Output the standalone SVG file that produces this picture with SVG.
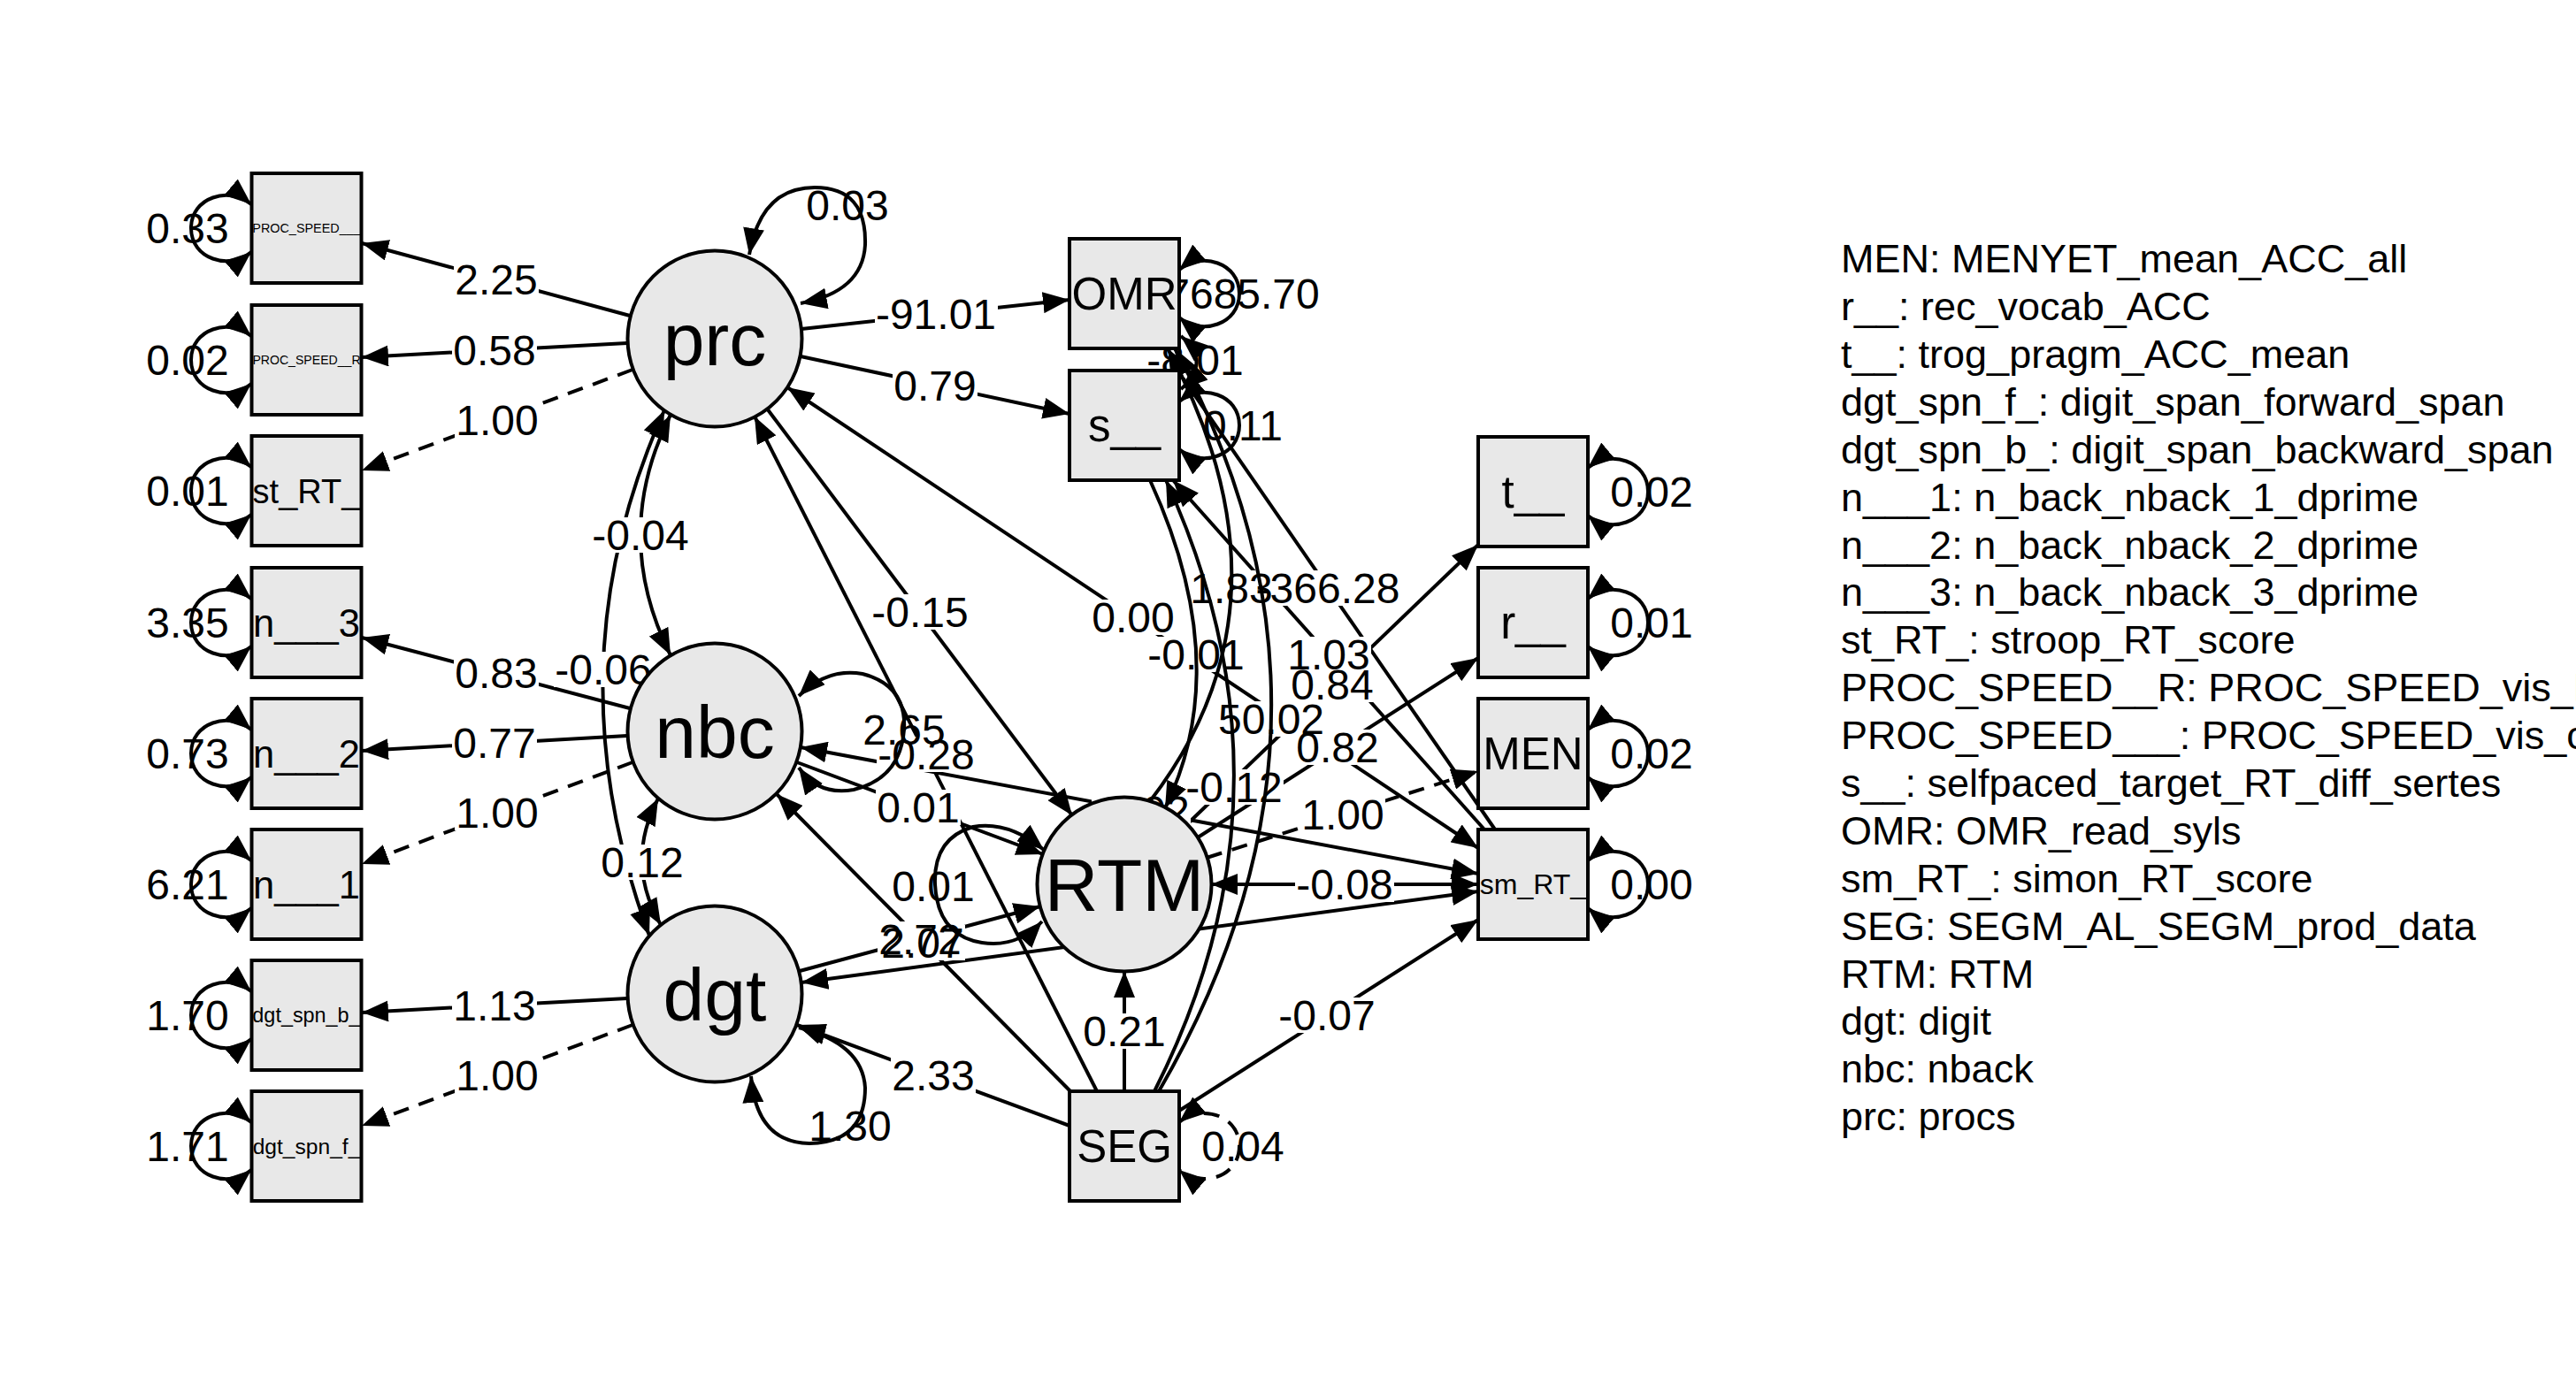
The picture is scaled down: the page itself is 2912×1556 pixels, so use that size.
<svg xmlns="http://www.w3.org/2000/svg" width="2912" height="1556" viewBox="0 0 2912 1556">
<defs>
<marker id="a" viewBox="0 0 30 24" refX="30" refY="12" markerWidth="30" markerHeight="24" markerUnits="userSpaceOnUse" orient="auto-start-reverse"><path d="M0,0 L30,12 L0,24 z" fill="#000"/></marker>
</defs>
<style>
.e{fill:none;stroke:#000;stroke-width:4}
.d{stroke-dasharray:18 12}
.h{marker-end:url(#a)}
.b{marker-start:url(#a);marker-end:url(#a)}
.s{marker-start:url(#a)}
.n{fill:#e8e8e8;stroke:#000;stroke-width:4}
text{font-family:"Liberation Sans",Arial,sans-serif;fill:#000}
.l{font-size:48px;text-anchor:middle}
.bg{fill:#fff}
.nl{text-anchor:middle}
.lat{font-size:84px;text-anchor:middle}
.lg{font-size:45px}
</style>
<rect width="2912" height="1556" fill="#fff"/>
<g id="connectors">
<g id="straight">
<path class="e h" d="M712,357 L409,275"/>
<path class="e h" d="M709,388 L409,404"/>
<path class="e h d" d="M715,418 L409,532"/>
<path class="e h" d="M712,801 L409,721"/>
<path class="e h" d="M709,832 L409,849"/>
<path class="e h d" d="M715,862 L409,977"/>
<path class="e h" d="M709,1129 L409,1145"/>
<path class="e h d" d="M715,1159 L409,1273"/>
<path class="e h" d="M906,372 L1209,339"/>
<path class="e h" d="M905,403 L1209,468"/>
<path class="e h" d="M867,462 L1212,922"/>
<path class="e b" d="M890,438 L1671,959"/>
<path class="e h" d="M1240,1234 L853,471"/>
<path class="e h" d="M1210,1234 L878,898"/>
<path class="e h" d="M904,1098 L1176,1025"/>
<path class="e h" d="M901,862 L1179,966"/>
<path class="e b" d="M905,845 L1671,988"/>
<path class="e b" d="M906,1111 L1671,1008"/>
<path class="e h" d="M1209,1273 L901,1159"/>
<path class="e h" d="M1271,1234 L1271,1098"/>
<path class="e h" d="M1333,1256 L1671,1040"/>
<path class="e h" d="M1342,932 L1671,616"/>
<path class="e h" d="M1354,947 L1671,744"/>
<path class="e h d" d="M1364,970 L1671,872"/>
<path class="e b" d="M1369,1000 L1671,1000"/>
<path class="e h" d="M1678,938 L1326,543"/>
<path class="e h" d="M1690,938 L1314,394"/>
<path class="e b" d="M758,469 Q690,605 758,741"/>
<path class="e b" d="M751,464 Q621,753 734,1058"/>
<path class="e b" d="M744,903 Q706,975 747,1046"/>
</g>
<g id="label-bg">
<rect class="bg" x="513" y="296" width="96" height="40"/>
<rect class="bg" x="511" y="376" width="96" height="40"/>
<rect class="bg" x="514" y="455" width="96" height="40"/>
<rect class="bg" x="513" y="741" width="96" height="40"/>
<rect class="bg" x="511" y="820" width="96" height="40"/>
<rect class="bg" x="514" y="899" width="96" height="40"/>
<rect class="bg" x="511" y="1117" width="96" height="40"/>
<rect class="bg" x="514" y="1196" width="96" height="40"/>
<rect class="bg" x="989" y="335" width="139" height="40"/>
<rect class="bg" x="1009" y="416" width="96" height="40"/>
<rect class="bg" x="984" y="672" width="112" height="40"/>
<rect class="bg" x="1233" y="678" width="96" height="40"/>
<rect class="bg" x="991" y="833" width="112" height="40"/>
<rect class="bg" x="995" y="1046" width="96" height="40"/>
<rect class="bg" x="992" y="1042" width="96" height="40"/>
<rect class="bg" x="990" y="893" width="96" height="40"/>
<rect class="bg" x="1234" y="897" width="112" height="40"/>
<rect class="bg" x="1007" y="1196" width="96" height="40"/>
<rect class="bg" x="1223" y="1146" width="96" height="40"/>
<rect class="bg" x="1444" y="1128" width="112" height="40"/>
<rect class="bg" x="1458" y="754" width="96" height="40"/>
<rect class="bg" x="1464" y="825" width="96" height="40"/>
<rect class="bg" x="1470" y="901" width="96" height="40"/>
<rect class="bg" x="1464" y="980" width="112" height="40"/>
<rect class="bg" x="1454" y="720" width="96" height="40"/>
<rect class="bg" x="1418" y="645" width="166" height="40"/>
<rect class="bg" x="668" y="585" width="112" height="40"/>
<rect class="bg" x="626" y="737" width="112" height="40"/>
<rect class="bg" x="678" y="955" width="96" height="40"/>
<rect class="bg" x="1296" y="720" width="112" height="40"/>
<rect class="bg" x="1344" y="645" width="96" height="40"/>
<rect class="bg" x="1376" y="793" width="123" height="40"/>
<rect class="bg" x="1339" y="870" width="112" height="40"/>
<rect class="bg" x="1295" y="387" width="112" height="40"/>
</g>
<g id="curves-loops">
<path class="e h" d="M1300,543 Q1396,752 1317,914"/>
<path class="e s" d="M1320,394 Q1474,680 1300,906"/>
<path class="e h" d="M1310,1234 Q1555,812 1328,394"/>
<path class="e h" d="M1305,1234 Q1478,892 1318,543"/>
<path class="e b" d="M1335,380 Q1370,410 1335,440"/>
<path class="e b" d="M284,231 C259,210 216,223 216,258 C216,293 259,306 284,285"/>
<path class="e b" d="M284,380 C259,359 216,372 216,407 C216,442 259,455 284,434"/>
<path class="e b" d="M284,528 C259,507 216,520 216,555 C216,590 259,603 284,582"/>
<path class="e b" d="M284,677 C259,656 216,669 216,704 C216,739 259,752 284,731"/>
<path class="e b" d="M284,825 C259,804 216,817 216,852 C216,887 259,900 284,879"/>
<path class="e b" d="M284,973 C259,952 216,965 216,1000 C216,1035 259,1048 284,1027"/>
<path class="e b" d="M284,1121 C259,1100 216,1113 216,1148 C216,1183 259,1196 284,1175"/>
<path class="e b" d="M284,1269 C259,1248 216,1261 216,1296 C216,1331 259,1344 284,1323"/>
<path class="e b" d="M1795,529 C1820,508 1863,521 1863,556 C1863,591 1820,604 1795,583"/>
<path class="e b" d="M1795,677 C1820,656 1863,669 1863,704 C1863,739 1820,752 1795,731"/>
<path class="e b" d="M1795,825 C1820,804 1863,817 1863,852 C1863,887 1820,900 1795,879"/>
<path class="e b" d="M1795,973 C1820,952 1863,965 1863,1000 C1863,1035 1820,1048 1795,1027"/>
<path class="e b" d="M1333,305 C1358,284 1401,297 1401,332 C1401,367 1358,380 1333,359"/>
<path class="e b" d="M1333,454 C1358,433 1401,446 1401,481 C1401,516 1358,529 1333,508"/>
<path class="e b d" d="M1333,1269 C1358,1248 1401,1261 1401,1296 C1401,1331 1358,1344 1333,1323"/>
<path class="e b" d="M847,288 Q860,212 921,212 Q980,212 978,277 Q975,330 905,343"/>
<path class="e b" d="M903,787 Q935,755 975,762 Q1025,775 1022,825 Q1018,880 965,893 Q925,900 903,868"/>
<path class="e b" d="M849,1217 Q855,1292 915,1293 Q978,1292 978,1230 Q975,1180 903,1162"/>
<path class="e b" d="M1180,961 Q1140,928 1100,935 Q1055,948 1057,1000 Q1060,1058 1110,1066 Q1150,1072 1178,1042"/>
</g>
<g id="labels">
<text class="l" x="561" y="333">2.25</text>
<text class="l" x="559" y="413">0.58</text>
<text class="l" x="562" y="492">1.00</text>
<text class="l" x="561" y="778">0.83</text>
<text class="l" x="559" y="857">0.77</text>
<text class="l" x="562" y="936">1.00</text>
<text class="l" x="559" y="1154">1.13</text>
<text class="l" x="562" y="1233">1.00</text>
<text class="l" x="1058" y="372">-91.01</text>
<text class="l" x="1057" y="453">0.79</text>
<text class="l" x="1040" y="709">-0.15</text>
<text class="l" x="1281" y="715">0.00</text>
<text class="l" x="1047" y="870">-0.28</text>
<text class="l" x="1043" y="1083">2.07</text>
<text class="l" x="1040" y="1079">2.72</text>
<text class="l" x="1038" y="930">0.01</text>
<text class="l" x="1290" y="934">-0.02</text>
<text class="l" x="1055" y="1233">2.33</text>
<text class="l" x="1271" y="1183">0.21</text>
<text class="l" x="1500" y="1165">-0.07</text>
<text class="l" x="1506" y="791">0.84</text>
<text class="l" x="1512" y="862">0.82</text>
<text class="l" x="1518" y="938">1.00</text>
<text class="l" x="1520" y="1017">-0.08</text>
<text class="l" x="1502" y="757">1.03</text>
<text class="l" x="1501" y="682">-366.28</text>
<text class="l" x="724" y="622">-0.04</text>
<text class="l" x="682" y="774">-0.06</text>
<text class="l" x="726" y="992">0.12</text>
<text class="l" x="1352" y="757">-0.01</text>
<text class="l" x="1392" y="682">1.83</text>
<text class="l" x="1437" y="830">50.02</text>
<text class="l" x="1395" y="907">-0.12</text>
<text class="l" x="1351" y="424">-8.01</text>
<text class="l" x="212" y="275">0.33</text>
<text class="l" x="212" y="424">0.02</text>
<text class="l" x="212" y="572">0.01</text>
<text class="l" x="212" y="721">3.35</text>
<text class="l" x="212" y="869">0.73</text>
<text class="l" x="212" y="1017">6.21</text>
<text class="l" x="212" y="1165">1.70</text>
<text class="l" x="212" y="1313">1.71</text>
<text class="l" x="1867" y="573">0.02</text>
<text class="l" x="1867" y="721">0.01</text>
<text class="l" x="1867" y="869">0.02</text>
<text class="l" x="1867" y="1017">0.00</text>
<text class="l" x="1405" y="349">7685.70</text>
<text class="l" x="1405" y="498">0.11</text>
<text class="l" x="1405" y="1313">0.04</text>
<text class="l" x="958" y="249">0.03</text>
<text class="l" x="1022" y="842">2.65</text>
<text class="l" x="961" y="1290">1.30</text>
<text class="l" x="1055" y="1019">0.01</text>
</g>
</g>
<g id="node-PROC_SPEED___"><rect class="n" x="284.5" y="196" width="124" height="124"/><text class="nl" x="346.5" y="263" font-size="14.4">PROC_SPEED___</text></g>
<g id="node-PROC_SPEED__R"><rect class="n" x="284.5" y="345" width="124" height="124"/><text class="nl" x="346.5" y="412" font-size="14.1">PROC_SPEED__R</text></g>
<g id="node-st_RT_"><rect class="n" x="284.5" y="493" width="124" height="124"/><text class="nl" x="346.5" y="569" font-size="38">st_RT_</text></g>
<g id="node-n___3"><rect class="n" x="284.5" y="642" width="124" height="124"/><text class="nl" x="346.5" y="720" font-size="43.5">n___3</text></g>
<g id="node-n___2"><rect class="n" x="284.5" y="790" width="124" height="124"/><text class="nl" x="346.5" y="868" font-size="43.5">n___2</text></g>
<g id="node-n___1"><rect class="n" x="284.5" y="938" width="124" height="124"/><text class="nl" x="346.5" y="1016" font-size="43.5">n___1</text></g>
<g id="node-dgt_spn_b_"><rect class="n" x="284.5" y="1086" width="124" height="124"/><text class="nl" x="346.5" y="1156" font-size="23.4">dgt_spn_b_</text></g>
<g id="node-dgt_spn_f_"><rect class="n" x="284.5" y="1234" width="124" height="124"/><text class="nl" x="346.5" y="1305" font-size="24.6">dgt_spn_f_</text></g>
<g id="node-OMR"><rect class="n" x="1209" y="270" width="124" height="124"/><text class="nl" x="1271" y="350" font-size="51">OMR</text></g>
<g id="node-s__"><rect class="n" x="1209" y="419" width="124" height="124"/><text class="nl" x="1271" y="499" font-size="51">s__</text></g>
<g id="node-SEG"><rect class="n" x="1209" y="1234" width="124" height="124"/><text class="nl" x="1271" y="1314" font-size="51">SEG</text></g>
<g id="node-t__"><rect class="n" x="1671" y="494" width="124" height="124"/><text class="nl" x="1733" y="574" font-size="51">t__</text></g>
<g id="node-r__"><rect class="n" x="1671" y="642" width="124" height="124"/><text class="nl" x="1733" y="722" font-size="51">r__</text></g>
<g id="node-MEN"><rect class="n" x="1671" y="790" width="124" height="124"/><text class="nl" x="1733" y="870" font-size="51">MEN</text></g>
<g id="node-sm_RT_"><rect class="n" x="1671" y="938" width="124" height="124"/><text class="nl" x="1733" y="1011" font-size="32">sm_RT_</text></g>
<g id="node-prc"><ellipse class="n" cx="808" cy="383" rx="98.5" ry="99.5"/><text class="lat" x="808" y="413">prc</text></g>
<g id="node-nbc"><ellipse class="n" cx="808" cy="827" rx="98.5" ry="99.5"/><text class="lat" x="808" y="857">nbc</text></g>
<g id="node-dgt"><ellipse class="n" cx="808" cy="1124" rx="98.5" ry="99.5"/><text class="lat" x="808" y="1154">dgt</text></g>
<g id="node-RTM"><ellipse class="n" cx="1271" cy="1000" rx="98.5" ry="98.5"/><text class="lat" x="1271" y="1030">RTM</text></g>
<g id="legend" class="lg">
<text x="2081" y="308">MEN: MENYET_mean_ACC_all</text>
<text x="2081" y="362">r__: rec_vocab_ACC</text>
<text x="2081" y="416">t__: trog_pragm_ACC_mean</text>
<text x="2081" y="470">dgt_spn_f_: digit_span_forward_span</text>
<text x="2081" y="524">dgt_spn_b_: digit_span_backward_span</text>
<text x="2081" y="578">n___1: n_back_nback_1_dprime</text>
<text x="2081" y="632">n___2: n_back_nback_2_dprime</text>
<text x="2081" y="685">n___3: n_back_nback_3_dprime</text>
<text x="2081" y="739">st_RT_: stroop_RT_score</text>
<text x="2081" y="793">PROC_SPEED__R: PROC_SPEED_vis_R</text>
<text x="2081" y="847">PROC_SPEED___: PROC_SPEED_vis_c</text>
<text x="2081" y="901">s__: selfpaced_target_RT_diff_sertes</text>
<text x="2081" y="955">OMR: OMR_read_syls</text>
<text x="2081" y="1009">sm_RT_: simon_RT_score</text>
<text x="2081" y="1063">SEG: SEGM_AL_SEGM_prod_data</text>
<text x="2081" y="1117">RTM: RTM</text>
<text x="2081" y="1170">dgt: digit</text>
<text x="2081" y="1224">nbc: nback</text>
<text x="2081" y="1278">prc: procs</text>
</g>
</svg>
